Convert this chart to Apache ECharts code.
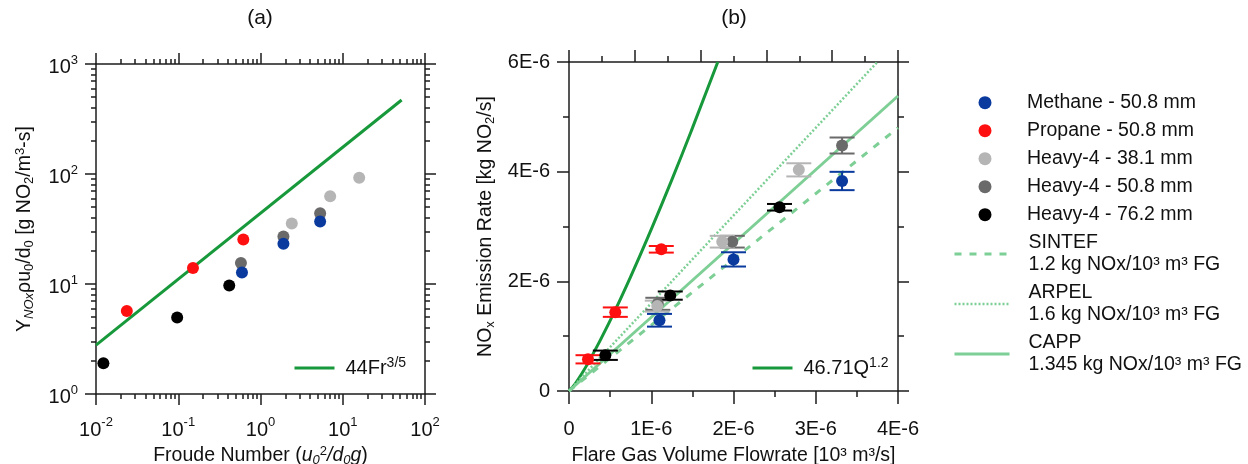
<!DOCTYPE html>
<html><head><meta charset="utf-8">
<script src="https://cdn.jsdelivr.net/npm/echarts@6/dist/echarts.min.js"></script>
<style>html,body{margin:0;padding:0;background:#fff}#c{width:1248px;height:464px}</style>
</head><body><div id="c"></div>
<script>
// ---------------- DATA ----------------
const groupNames = ['Methane - 50.8 mm', 'Propane - 50.8 mm', 'Heavy-4 - 38.1 mm', 'Heavy-4 - 50.8 mm', 'Heavy-4 - 76.2 mm'];
// Panel (a): [Froude number, Y*rho*u0/d0]
const methaneA = [[0.595, 12.7], [1.90, 23.2], [5.31, 37.0]];
const propaneA = [[0.0237, 5.69], [0.151, 14.0], [0.618, 25.4]];
const heavy381A = [[2.40, 35.5], [7.03, 62.9], [15.85, 92.3]];
const heavy508A = [[0.578, 15.5], [1.90, 27.0], [5.31, 44.0]];
const heavy762A = [[0.0123, 1.90], [0.097, 4.95], [0.417, 9.67]];
const fitA = [[0.01, 2.78], [52, 471]];            // 44Fr^(3/5)
// Panel (b): [flowrate, NOx emission rate, error]
const methaneB = [[1.10e-6, 1.29e-6, 0.116e-6], [2.00e-6, 2.40e-6, 0.13e-6], [3.32e-6, 3.83e-6, 0.167e-6]];
const propaneB = [[0.231e-6, 0.578e-6, 0.075e-6], [0.563e-6, 1.438e-6, 0.086e-6], [1.122e-6, 2.584e-6, 0.06e-6]];
const heavy381B = [[1.073e-6, 1.548e-6, 0.10e-6], [1.863e-6, 2.723e-6, 0.107e-6], [2.794e-6, 4.033e-6, 0.12e-6]];
const heavy508B = [[1.08e-6, 1.59e-6, 0.11e-6], [1.985e-6, 2.723e-6, 0.107e-6], [3.32e-6, 4.477e-6, 0.146e-6]];
const heavy762B = [[0.442e-6, 0.652e-6, 0.085e-6], [1.231e-6, 1.74e-6, 0.075e-6], [2.559e-6, 3.351e-6, 0.06e-6]];
const curveB = [[0, 0], [0.05e-6, 0.081e-6], [0.1e-6, 0.186e-6], [0.25e-6, 0.558e-6], [0.5e-6, 1.283e-6],
  [0.75e-6, 2.087e-6], [1.0e-6, 2.947e-6], [1.25e-6, 3.851e-6], [1.5e-6, 4.794e-6], [1.809e-6, 6.0e-6]]; // 46.71Q^1.2
const sintefB = [[0, 0], [4e-6, 4.8e-6]];
const arpelB = [[0, 0], [3.75e-6, 6e-6]];
const cappB = [[0, 0], [4e-6, 5.38e-6]];
const lineNames = ['SINTEF\n1.2 kg NOx/10³ m³ FG', 'ARPEL\n1.6 kg NOx/10³ m³ FG', 'CAPP\n1.345 kg NOx/10³ m³ FG'];
// Tick positions
const minorFr = [0.02,0.03,0.04,0.05,0.06,0.07,0.08,0.09, 0.2,0.3,0.4,0.5,0.6,0.7,0.8,0.9, 2,3,4,5,6,7,8,9, 20,30,40,50,60,70,80,90];
const minorY = [2,3,4,5,6,7,8,9, 20,30,40,50,60,70,80,90, 200,300,400,500,600,700,800,900];
const bottomMinorQ = [0.5e-6, 1.5e-6, 2.5e-6, 3.5e-6];
const topMajorQ = [0, 0.8e-6, 1.6e-6, 2.4e-6, 3.2e-6, 4e-6];
const topMinorQ = [0.4e-6, 1.2e-6, 2.0e-6, 2.8e-6, 3.6e-6];
const minorN = [1e-6, 3e-6, 5e-6];

// ---------------- STYLE ----------------
const FONT = "'Liberation Sans', Arial, Helvetica, sans-serif";
const TXT = '#111111';
const AX = '#1c1c1c';
const DG = '#17993b';
const LG = '#7dcf95';
const colors = ['#0a3a9e', '#ff1010', '#b5b5b5', '#6a6a6a', '#000000'];
const groupsA = [methaneA, propaneA, heavy381A, heavy508A, heavy762A];
const groupsB = [methaneB, propaneB, heavy381B, heavy508B, heavy762B];
const drawOrder = [3, 2, 4, 0, 1];

function axis(o) {
  const a = {
    type: o.type || 'value', gridIndex: o.grid, position: o.pos,
    min: o.min, max: o.max,
    axisLine: {show: !!o.line, onZero: false, lineStyle: {color: AX, width: 1.5}},
    axisTick: {show: true, inside: false, length: o.len, lineStyle: {color: AX, width: 1.5}},
    axisLabel: o.label || {show: false},
    splitLine: {show: false},
    minorTick: {show: false}, minorSplitLine: {show: false},
    axisPointer: {show: false}
  };
  if (o.type === 'log') a.logBase = 10;
  if (o.interval !== undefined) a.interval = o.interval;
  if (o.ticks) a.axisTick.customValues = o.ticks;
  if (o.name) Object.assign(a, o.name);
  return a;
}
const supRich = {
  b: {fontSize: 20, padding: [7, 0, 0, 0], color: TXT, fontFamily: FONT},
  s: {fontSize: 13, padding: [0, 0, 8, 0], color: TXT, fontFamily: FONT}
};
function logLabel(margin) {
  return {show: true, margin: margin, color: TXT, fontFamily: FONT,
    formatter: v => '{b|10}{s|' + Math.round(Math.log10(v)) + '}', rich: supRich};
}
function linLabel(margin) {
  return {show: true, margin: margin, color: TXT, fontFamily: FONT, fontSize: 20,
    formatter: v => (Math.abs(v) < 1e-12 ? '0' : Math.round(v * 1e6) + 'E-6')};
}
const nameRich = {
  n: {fontSize: 19.5, color: TXT, fontFamily: FONT},
  i: {fontSize: 19.5, color: TXT, fontFamily: FONT, fontStyle: 'italic'},
  sub: {fontSize: 13, color: TXT, fontFamily: FONT, padding: [9, 0, 0, 0]},
  isub: {fontSize: 13, color: TXT, fontFamily: FONT, fontStyle: 'italic', padding: [9, 0, 0, 0]},
  sup: {fontSize: 13, color: TXT, fontFamily: FONT, padding: [0, 0, 9, 0]}
};
function nameOpt(text, gap, extra) {
  return Object.assign({name: text, nameLocation: 'middle', nameGap: gap, nameMoveOverlap: false,
    nameTextStyle: {fontSize: 19.5, color: TXT, fontFamily: FONT, rich: nameRich}}, extra || {});
}

const log10 = v => Math.log10(v);
const xAxes = [
  axis({type: 'log', grid: 0, pos: 'bottom', min: 0.01, max: 100, line: true, len: 11, label: logLabel(19),
    name: nameOpt('{n|Froude Number (}{i|u}{isub|0}{sup|2}{i|/d}{isub|0}{i|g}{n|)}', 51)}),
  axis({grid: 0, pos: 'bottom', min: -2, max: 2, len: 5, ticks: minorFr.map(log10)}),
  axis({type: 'log', grid: 0, pos: 'top', min: 0.01, max: 100, line: true, len: 11}),
  axis({grid: 0, pos: 'top', min: -2, max: 2, len: 5, ticks: minorFr.map(log10)}),
  axis({grid: 1, pos: 'bottom', min: 0, max: 4e-6, interval: 1e-6, line: true, len: 13, label: linLabel(28),
    name: nameOpt('Flare Gas Volume Flowrate [10³ m³/s]', 55)}),
  axis({grid: 1, pos: 'bottom', min: 0, max: 4e-6, len: 6, ticks: bottomMinorQ}),
  axis({grid: 1, pos: 'top', min: 0, max: 4e-6, line: true, len: 12, ticks: topMajorQ}),
  axis({grid: 1, pos: 'top', min: 0, max: 4e-6, len: 6, ticks: topMinorQ})
];
const yAxes = [
  axis({type: 'log', grid: 0, pos: 'left', min: 1, max: 1000, line: true, len: 11, label: logLabel(18),
    name: nameOpt('{n|Y}{isub|NOx}{n|ρu}{sub|0}{n|/d}{sub|0}{n| [g NO}{sub|2}{n|/m}{sup|3}{n|-s]}', 60)}),
  axis({grid: 0, pos: 'left', min: 0, max: 3, len: 5, ticks: minorY.map(log10)}),
  axis({type: 'log', grid: 0, pos: 'right', min: 1, max: 1000, line: true, len: 11}),
  axis({grid: 0, pos: 'right', min: 0, max: 3, len: 5, ticks: minorY.map(log10)}),
  axis({grid: 1, pos: 'left', min: 0, max: 6e-6, interval: 2e-6, line: true, len: 12, label: linLabel(19),
    name: nameOpt('{n|NO}{sub|x}{n| Emission Rate [kg NO}{sub|2}{n|/s]}', 72)}),
  axis({grid: 1, pos: 'left', min: 0, max: 6e-6, len: 6, ticks: minorN}),
  axis({grid: 1, pos: 'right', min: 0, max: 6e-6, interval: 2e-6, line: true, len: 11}),
  axis({grid: 1, pos: 'right', min: 0, max: 6e-6, len: 6, ticks: minorN})
];

function errRender(params, api) {
  const x = api.value(0), y = api.value(1), e = api.value(2);
  const t = api.coord([x, y + e]);
  const b = api.coord([x, y - e]);
  const hw = 12.5;
  const st = {stroke: api.visual('color'), lineWidth: 2};
  return {type: 'group', children: [
    {type: 'line', shape: {x1: t[0], y1: t[1], x2: b[0], y2: b[1]}, style: st},
    {type: 'line', shape: {x1: t[0] - hw, y1: t[1], x2: t[0] + hw, y2: t[1]}, style: st},
    {type: 'line', shape: {x1: b[0] - hw, y1: b[1], x2: b[0] + hw, y2: b[1]}, style: st}
  ]};
}

const series = [];
series.push({type: 'line', name: '44Fr3/5', xAxisIndex: 0, yAxisIndex: 0, data: fitA, symbol: 'none',
  lineStyle: {color: DG, width: 3}, itemStyle: {color: DG}, z: 2});
drawOrder.forEach(i => series.push({type: 'scatter', name: groupNames[i], xAxisIndex: 0, yAxisIndex: 0,
  data: groupsA[i], symbol: 'circle', symbolSize: 12, itemStyle: {color: colors[i], opacity: 1}, z: 3}));
series.push({type: 'line', name: '46.71Q1.2', xAxisIndex: 4, yAxisIndex: 4, data: curveB, symbol: 'none', smooth: true,
  lineStyle: {color: DG, width: 3}, itemStyle: {color: DG}, z: 2});
series.push({type: 'line', name: lineNames[0], xAxisIndex: 4, yAxisIndex: 4, data: sintefB, symbol: 'none',
  lineStyle: {color: LG, width: 3, type: [7, 8]}, itemStyle: {color: LG}, z: 2});
series.push({type: 'line', name: lineNames[1], xAxisIndex: 4, yAxisIndex: 4, data: arpelB, symbol: 'none',
  lineStyle: {color: LG, width: 2.5, type: [2, 2]}, itemStyle: {color: LG}, z: 2});
series.push({type: 'line', name: lineNames[2], xAxisIndex: 4, yAxisIndex: 4, data: cappB, symbol: 'none',
  lineStyle: {color: LG, width: 3}, itemStyle: {color: LG}, z: 2});
drawOrder.forEach(i => {
  series.push({type: 'custom', name: 'err ' + groupNames[i], xAxisIndex: 4, yAxisIndex: 4, data: groupsB[i],
    renderItem: errRender, encode: {x: 0, y: 1}, itemStyle: {color: colors[i]}, z: 3});
  series.push({type: 'scatter', name: groupNames[i], xAxisIndex: 4, yAxisIndex: 4, data: groupsB[i].map(d => [d[0], d[1]]),
    symbol: 'circle', symbolSize: 12, itemStyle: {color: colors[i], opacity: 1}, z: 4});
});

const legendBase = {orient: 'vertical', padding: 0, selectedMode: false};
const noSym = {opacity: 0, borderWidth: 0};
const supLegRich = {n: {fontSize: 20, color: TXT, fontFamily: FONT}, s: {fontSize: 14, color: TXT, fontFamily: FONT, padding: [0, 0, 10, 0]}};
const option = {
  animation: false,
  backgroundColor: '#fff',
  textStyle: {fontFamily: FONT, color: TXT},
  tooltip: {show: false},
  grid: [
    {left: 96, top: 64, width: 329, height: 330, outerBoundsMode: 'none', containLabel: false},
    {left: 569, top: 62, width: 329, height: 329, outerBoundsMode: 'none', containLabel: false}
  ],
  xAxis: xAxes,
  yAxis: yAxes,
  legend: [
    Object.assign({}, legendBase, {data: [{name: '44Fr3/5', lineStyle: {width: 3}}], left: 293, top: 356, itemWidth: 40, itemHeight: 14,
      itemStyle: noSym, lineStyle: {width: 3},
      formatter: () => '{n|44Fr}{s|3/5}',
      textStyle: {padding: [0, 0, 0, 6], rich: supLegRich}}),
    Object.assign({}, legendBase, {data: [{name: '46.71Q1.2', lineStyle: {width: 3}}], left: 751, top: 356, itemWidth: 40, itemHeight: 14,
      itemStyle: noSym, lineStyle: {width: 3},
      formatter: () => '{n|46.71Q}{s|1.2}',
      textStyle: {padding: [0, 0, 0, 6], rich: supLegRich}}),
    Object.assign({}, legendBase, {data: groupNames, left: 978.5, top: 91.7, itemWidth: 13, itemHeight: 13, itemGap: 6,
      textStyle: {fontSize: 19.5, lineHeight: 22, color: TXT, fontFamily: FONT, padding: [0, 0, 0, 30.5]}}),
    Object.assign({}, legendBase, {
      data: [{name: lineNames[0], lineStyle: {width: 3}}, {name: lineNames[1], lineStyle: {width: 2.5}}, {name: lineNames[2], lineStyle: {width: 3}}],
      left: 953, top: 232, itemWidth: 55, itemHeight: 14, itemGap: 6, itemStyle: noSym,
      textStyle: {fontSize: 19.5, lineHeight: 22, color: TXT, fontFamily: FONT, padding: [0, 0, 0, 14]}})
  ],
  graphic: [
    {type: 'text', x: 260, y: 18, style: {text: '(a)', align: 'center', verticalAlign: 'middle', fontSize: 21, fill: TXT, fontFamily: FONT}},
    {type: 'text', x: 734, y: 18, style: {text: '(b)', align: 'center', verticalAlign: 'middle', fontSize: 21, fill: TXT, fontFamily: FONT}}
  ],
  series: series
};
const chart = echarts.init(document.getElementById('c'), null, {renderer: 'canvas'});
chart.setOption(option);
</script></body></html>
